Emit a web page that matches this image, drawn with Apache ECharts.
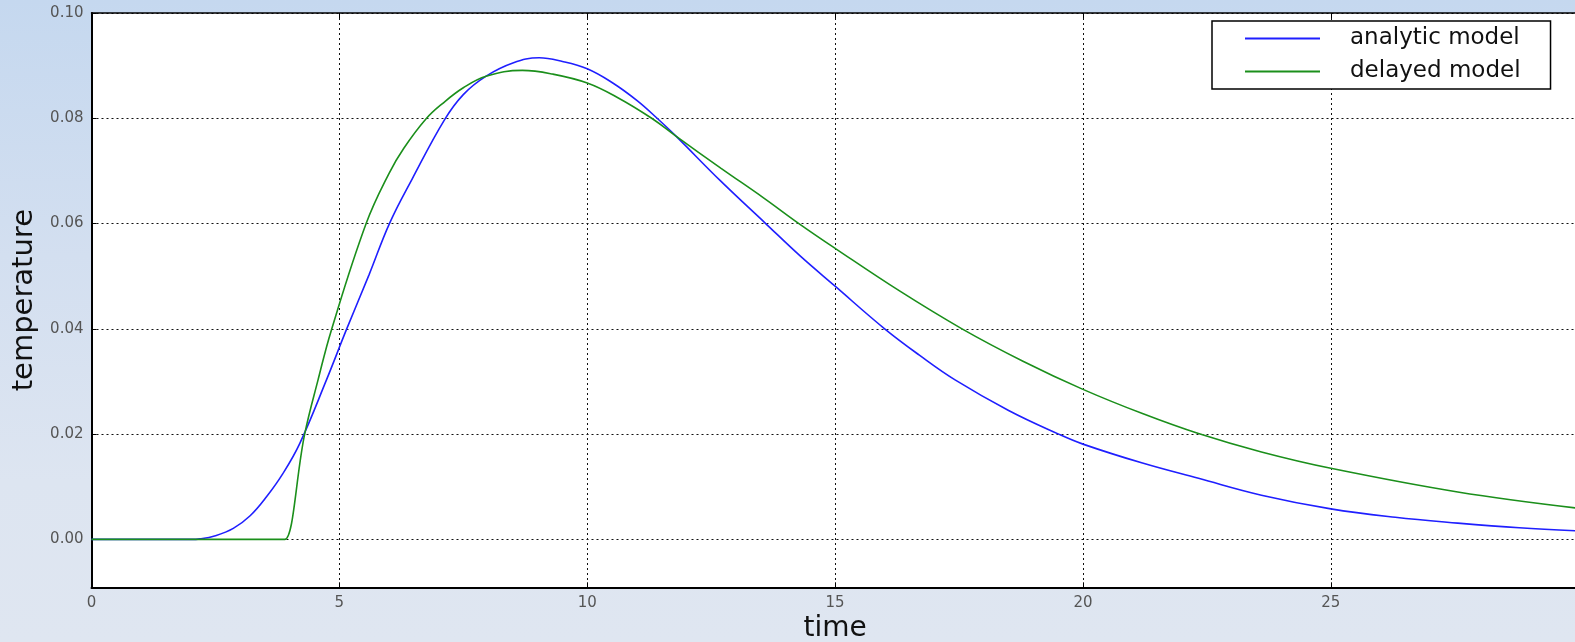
<!DOCTYPE html>
<html>
<head>
<meta charset="utf-8">
<script src="https://cdn.jsdelivr.net/npm/echarts@6/dist/echarts.min.js"></script>
<style>
  html, body {
    margin: 0;
    padding: 0;
  }
  body {
    width: 1575px;
    height: 642px;
    background: linear-gradient(to bottom, #c5d8ef 0%, #d3dff0 40%, #dde5f1 75%, #dfe6f1 100%);
  }
  #chart {
    width: 1575px;
    height: 642px;
  }
</style>
</head>
<body>
<div id="chart"></div>
<script>
// values: [time, temperature]
const analyticModel = [
  [0, 0], [2.0, 0], [2.19, 0.0001], [2.5, 0.0007], [2.86, 0.0021], [3.2, 0.0045],
  [3.53, 0.0081], [3.86, 0.0125], [4.2, 0.0182], [4.74, 0.0303], [5.14, 0.0398],
  [5.6, 0.0503], [6.01, 0.06], [6.47, 0.0685], [7.12, 0.0797], [7.5, 0.0845],
  [7.96, 0.088], [8.5, 0.0905], [9.03, 0.0915], [9.5, 0.0908], [10, 0.0894],
  [10.5, 0.0868], [11.0, 0.0834], [11.41, 0.08], [11.79, 0.0766], [12.7, 0.068],
  [13.6, 0.06], [14.3, 0.0538], [15, 0.0481], [16, 0.04], [16.7, 0.035],
  [17.42, 0.0303], [18.5, 0.0245], [19.51, 0.02], [20, 0.0181], [21.2, 0.0145],
  [22.33, 0.0116], [23.6, 0.0084], [25, 0.0058], [26.3, 0.0042], [27.56, 0.0031],
  [28.8, 0.0022], [30, 0.0016]
]
const delayedModel = [
  [0, 0], [3.85, 0], [3.9, 0], [4.3, 0.02], [4.57, 0.0303], [4.84, 0.0398],
  [5.54, 0.06], [6.0, 0.0695], [6.3, 0.0743], [6.75, 0.0799], [7.08, 0.0828],
  [7.5, 0.0858], [7.96, 0.088], [8.69, 0.0891], [9.3, 0.0884], [10, 0.0867],
  [10.6, 0.084], [11.3, 0.08], [11.79, 0.0766], [12.7, 0.0705], [13.57, 0.0648],
  [14.27, 0.06], [15, 0.0553], [16.3, 0.0472], [17.56, 0.04], [18.8, 0.0338],
  [20, 0.0285], [21.2, 0.0239], [22.33, 0.0201], [23.6, 0.0166], [25, 0.0135],
  [27.56, 0.009], [30, 0.0059]
]
const yTicks = [0, 0.02, 0.04, 0.06, 0.08, 0.1]
const xTicks = [0, 5, 10, 15, 20, 25, 30]

const FONT = 'DejaVu Sans'
const gridDots = {
  color: '#111',
  width: 1,
  type: [2, 3]
}

const chart = echarts.init(document.getElementById('chart'))

chart.setOption({
  animation: false,
  backgroundColor: 'transparent',
  textStyle: {
    fontFamily: FONT
  },
  grid: {
    show: true,
    left: 91.5,
    top: 13,
    right: -3.7,
    bottom: 54.7,
    outerBoundsMode: 'none',
    backgroundColor: '#fff',
    borderWidth: 0
  },
  legend: {
    orient: 'vertical',
    left: 1212,
    top: 21,
    icon: 'rect',
    itemWidth: 75,
    itemHeight: 2,
    itemGap: 10,
    padding: [6, 30, 6, 33],
    backgroundColor: '#fff',
    borderColor: '#000',
    borderWidth: 1.5,
    borderRadius: 0,
    textStyle: {
      fontFamily: FONT,
      fontSize: 23,
      color: '#111',
      padding: [0, 0, 0, 25]
    },
    data: ['analytic model', 'delayed model']
  },
  xAxis: [
    {
      type: 'value',
      min: xTicks[0],
      max: xTicks[xTicks.length - 1],
      interval: 5,
      name: 'time',
      nameLocation: 'middle',
      nameGap: 26,
      nameTextStyle: {
        fontFamily: FONT,
        fontSize: 28,
        color: '#111'
      },
      axisLine: {
        onZero: false,
        lineStyle: { color: '#000', width: 2 }
      },
      axisTick: {
        inside: true,
        length: 5,
        lineStyle: { color: '#000' }
      },
      axisLabel: {
        showMaxLabel: false,
        margin: 8,
        fontSize: 15,
        color: '#555'
      },
      splitLine: {
        show: true,
        lineStyle: gridDots
      }
    },
    {
      type: 'value',
      position: 'top',
      min: xTicks[0],
      max: xTicks[xTicks.length - 1],
      interval: 5,
      axisLine: {
        onZero: false,
        lineStyle: { color: '#000', width: 1.5 }
      },
      axisTick: {
        inside: true,
        length: 5,
        lineStyle: { color: '#000' }
      },
      axisLabel: { show: false },
      splitLine: { show: false }
    }
  ],
  yAxis: {
    type: 'value',
    min: -0.0091,
    max: 0.1,
    name: 'temperature',
    nameLocation: 'middle',
    nameGap: 52,
    nameTextStyle: {
      fontFamily: FONT,
      fontSize: 29,
      color: '#111'
    },
    axisLine: {
      show: true,
      onZero: false,
      lineStyle: { color: '#000', width: 2 }
    },
    axisTick: {
      show: true,
      inside: true,
      length: 5,
      customValues: yTicks,
      lineStyle: { color: '#000' }
    },
    axisLabel: {
      customValues: yTicks,
      margin: 8,
      fontSize: 15,
      color: '#555',
      formatter: (v) => v.toFixed(2)
    },
    splitLine: {
      show: true,
      lineStyle: gridDots
    }
  },
  series: [
    {
      name: 'analytic model',
      type: 'line',
      data: analyticModel,
      smooth: 0.4,
      showSymbol: false,
      symbol: 'none',
      itemStyle: { color: '#1f1fff' },
      lineStyle: { color: '#1f1fff', width: 1.6 }
    },
    {
      name: 'delayed model',
      type: 'line',
      data: delayedModel,
      smooth: 0.4,
      showSymbol: false,
      symbol: 'none',
      itemStyle: { color: '#1b8f1b' },
      lineStyle: { color: '#1b8f1b', width: 1.6 }
    }
  ]
})
</script>
</body>
</html>
